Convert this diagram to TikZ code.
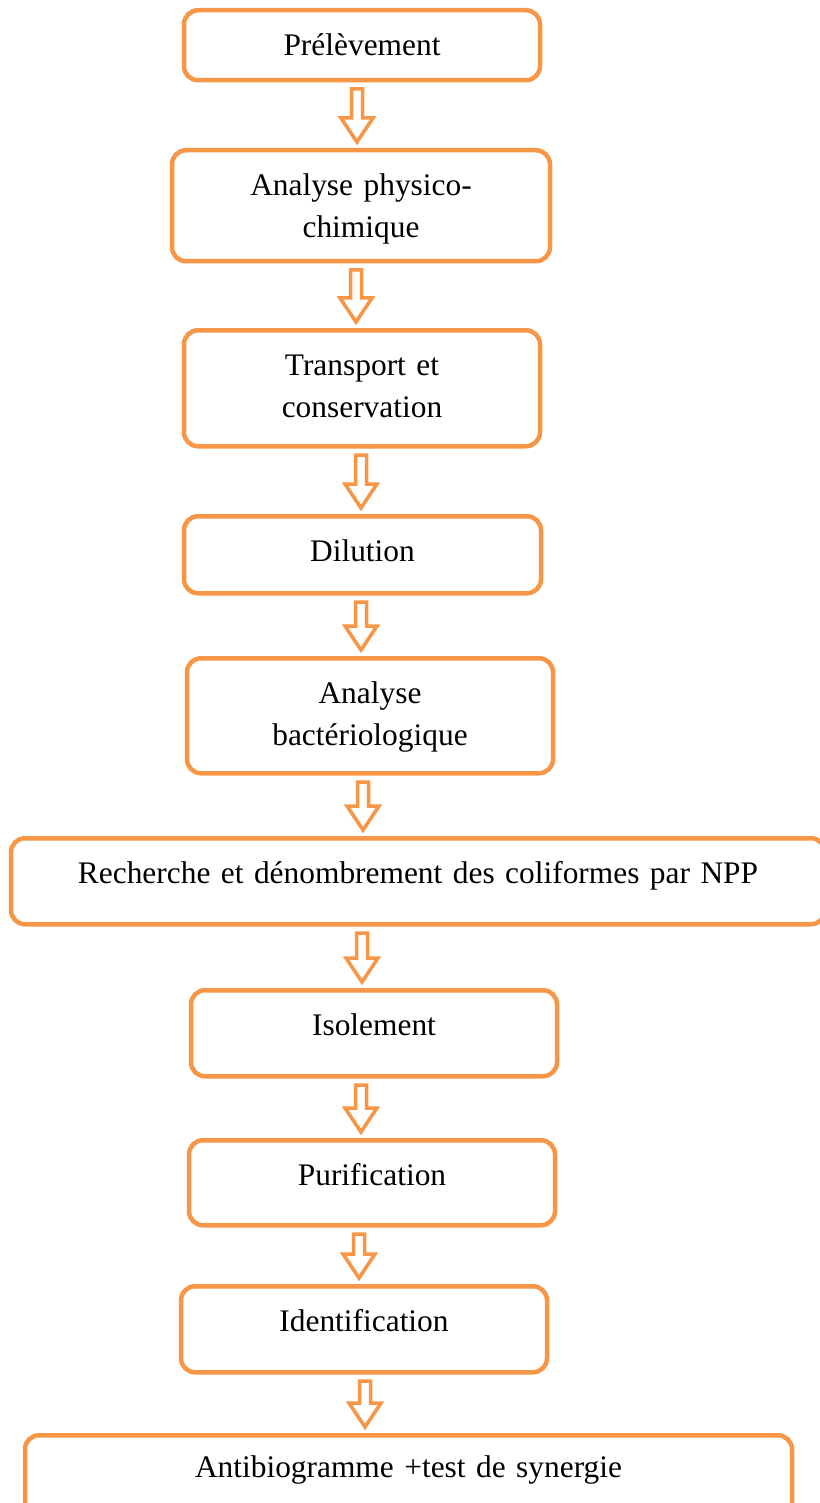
\documentclass[tikz,border=0pt]{standalone}
\usepackage{fontspec}
\setmainfont{Liberation Serif}
\usetikzlibrary{calc}
\definecolor{boxorange}{HTML}{F79646}
\tikzset{
  stepbox/.style={draw=boxorange, line width=4.5pt, rounded corners=14pt, fill=white,
    inner sep=0pt, anchor=north, align=center, text height=45pt,
    font=\fontsize{31.4}{42}\selectfont},
  hollowarrow/.style={draw=boxorange, line width=3.5pt, fill=white, line join=miter},
}
% hollow block arrow from the bottom of #1 to the top of #2, at x = #3
\newcommand{\flowarrow}[3]{%
  \edef\arrx{#3}%
  \draw[hollowarrow] let \p1=(#1.south), \p2=(#2.north) in
    (\arrx pt-5.5pt,\y1-6.5pt) -- (\arrx pt+5.5pt,\y1-6.5pt) -- (\arrx pt+5.5pt,\y2+30pt)
    -- (\arrx pt+16pt,\y2+30pt) -- (\arrx pt,\y2+6pt) -- (\arrx pt-16pt,\y2+30pt)
    -- (\arrx pt-5.5pt,\y2+30pt) -- cycle;%
}
\begin{document}
\begin{tikzpicture}[x=1pt, y=-1pt]
  \useasboundingbox (0,0) rectangle (819,1503);
  \node[stepbox, text width=356pt, text depth=25pt] (prelev) at (362,8) {Prélèvement};
  \node[stepbox, text width=378pt, text depth=66pt] (physchim) at (361,148) {Analyse physico-\\chimique};
  \node[stepbox, text width=356pt, text depth=71pt] (transport) at (362,328) {Transport et\\conservation};
  \node[stepbox, text width=357pt, text depth=32pt] (dilution) at (362.5,514) {Dilution};
  \node[stepbox, text width=366pt, text depth=70pt] (bacterio) at (370,656) {Analyse\\bactériologique};
  \node[stepbox, text width=814pt, text depth=41pt] (npp) at (418,836) {Recherche et dénombrement des coliformes par NPP};
  \node[stepbox, text width=366pt, text depth=41pt] (isolement) at (374,988) {Isolement};
  \node[stepbox, text width=366pt, text depth=40pt] (purif) at (372,1138) {Purification};
  \node[stepbox, text width=366pt, text depth=41pt] (ident) at (364,1284) {Identification};
  \node[stepbox, text width=767pt, text height=42pt, text depth=40pt] (antibio) at (408.5,1433) {Antibiogramme +test de synergie};
  \foreach \src/\dst/\xpos in {prelev/physchim/357, physchim/transport/356, transport/dilution/361,
      dilution/bacterio/361, bacterio/npp/363, npp/isolement/362, isolement/purif/361,
      purif/ident/359, ident/antibio/365} {
    \flowarrow{\src}{\dst}{\xpos}
  }
\end{tikzpicture}
\end{document}
